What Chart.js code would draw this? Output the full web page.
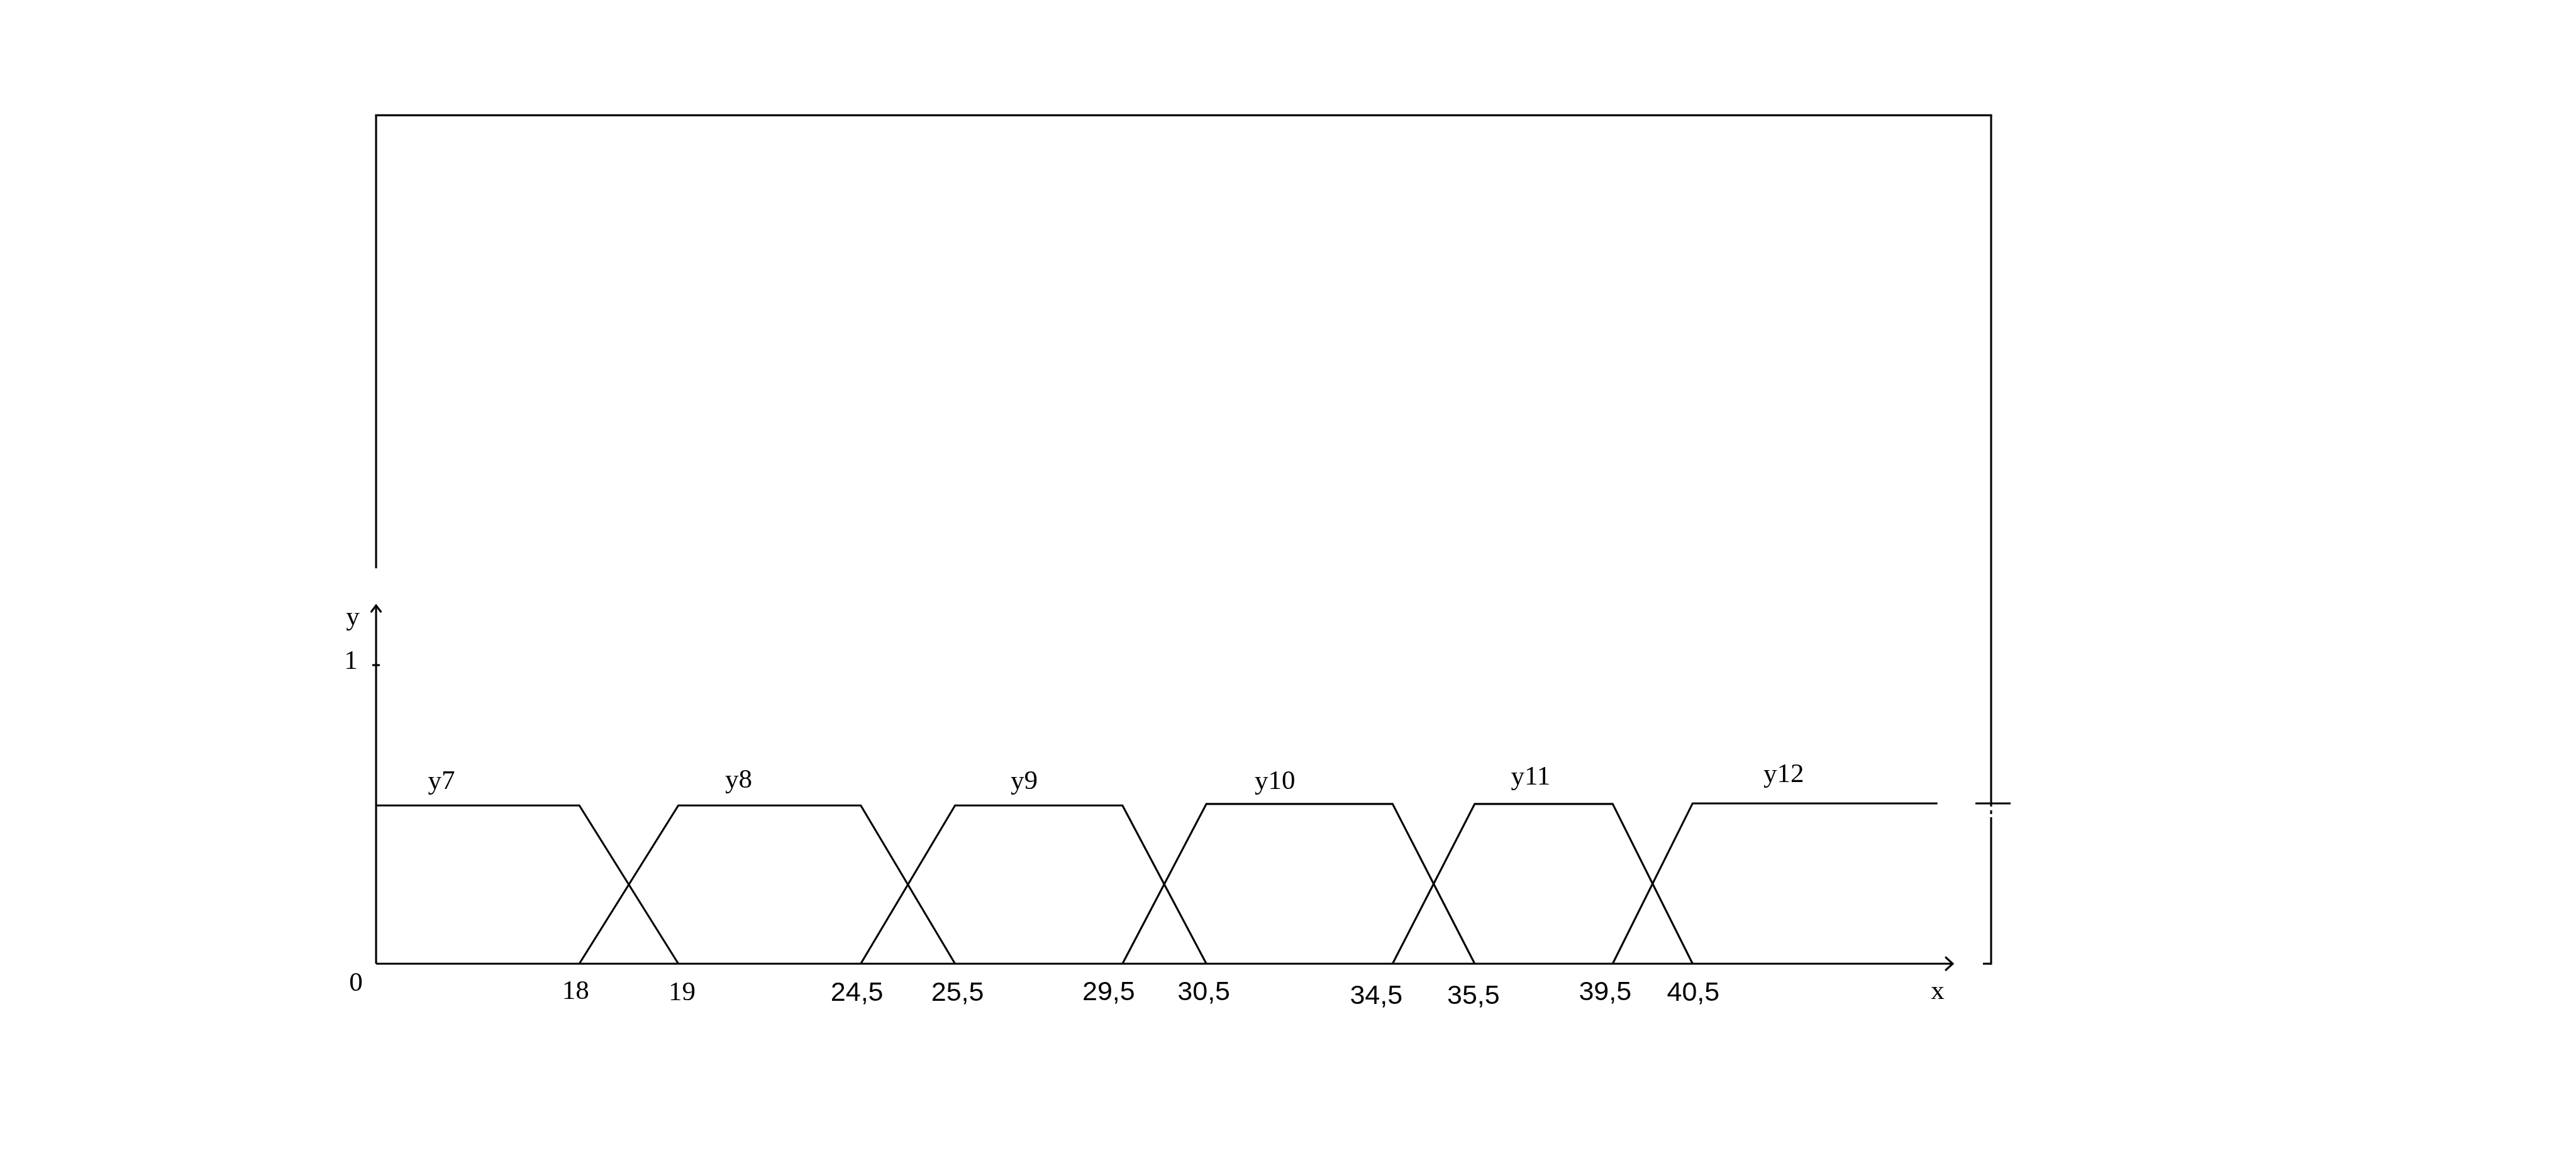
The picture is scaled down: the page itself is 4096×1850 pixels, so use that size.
<!DOCTYPE html>
<html>
<head>
<meta charset="utf-8">
<script src="https://cdn.jsdelivr.net/npm/chart.js@4.4.1/dist/chart.umd.min.js"></script>
<style>
html,body{margin:0;padding:0;background:#ffffff;}
canvas{display:block;}
</style>
</head>
<body>
<canvas id="c" width="4096" height="1850"></canvas>
<script>
// ---------------- data ----------------
const seriesNames = ['y7', 'y8', 'y9', 'y10', 'y11', 'y12'];
const y7X  = [0, 18, 19];
const y7Y  = [0.53, 0.53, 0];
const y8X  = [18, 19, 24.5, 25.5];
const y8Y  = [0, 0.53, 0.53, 0];
const y9X  = [24.5, 25.5, 29.5, 30.5];
const y9Y  = [0, 0.53, 0.53, 0];
const y10X = [29.5, 30.5, 34.5, 35.5];
const y10Y = [0, 0.535, 0.535, 0];
const y11X = [34.5, 35.5, 39.5, 40.5];
const y11Y = [0, 0.535, 0.535, 0];
const y12X = [39.5, 40.5, 47];
const y12Y = [0, 0.537, 0.537];

const xTickValues = [0, 18, 19, 24.5, 25.5, 29.5, 30.5, 34.5, 35.5, 39.5, 40.5];
const xTickLabels = ['0', '18', '19', '24,5', '25,5', '29,5', '30,5', '34,5', '35,5', '39,5', '40,5'];
const yTickValues = [1];
const yTickLabels = ['1'];
const xAxisTitle = 'x';
const yAxisTitle = 'y';

// ---------------- layout / style (not data) ----------------
// the sketch's x axis is hand drawn, not to scale: value -> fraction of axis length
const xKnots = [[0, 0], [18, 0.1289], [19, 0.1917], [24.5, 0.3074], [25.5, 0.3672],
                [29.5, 0.4734], [30.5, 0.5266], [34.5, 0.6447], [35.5, 0.6968],
                [39.5, 0.7843], [40.5, 0.8350], [47, 0.9903], [47.5, 1]];
const X_MAX = 47.5, Y_MAX = 1.2;
const SERIF = '43px "Liberation Serif", "DejaVu Serif", serif';
const SANS = '43px "Liberation Sans", "DejaVu Sans", sans-serif';
const LW = 3.1;
// per-label nudges [dx, baseline below x-axis] and font choice
const xLabelNudge = [[-32, 43], [-6, 56], [6, 57.5], [-6, 59], [4, 59], [-22, 57.5], [-4, 57.5],
                     [-26, 64], [-2, 64], [-12, 58], [1, 59]];
const xLabelSerif = [true, true, true, false, false, false, false, false, false, false, false];
// series label: [dx from plateau start, baseline height above plateau]
const seriesLabelNudge = [[104, 26], [96, 28], [110, 26], [109, 24], [89, 31], [145, 34]];
const frame = {top: 183.4, right: 3166, leftBottom: 904};

// ---------------- piecewise (sketch) scale ----------------
class SketchScale extends Chart.LinearScale {
  _frac(v) {
    const k = xKnots;
    let i = 1;
    while (i < k.length - 1 && v > k[i][0]) i++;
    const a = k[i - 1], b = k[i];
    return a[1] + (v - a[0]) * (b[1] - a[1]) / (b[0] - a[0]);
  }
  getPixelForValue(v) { return this.getPixelForDecimal(this._frac(v)); }
  getValueForPixel(p) {
    const f = this.getDecimalForPixel(p);
    const k = xKnots;
    let i = 1;
    while (i < k.length - 1 && f > k[i][1]) i++;
    const a = k[i - 1], b = k[i];
    return a[0] + (f - a[1]) * (b[0] - a[0]) / (b[1] - a[1]);
  }
}
SketchScale.id = 'sketch';
SketchScale.defaults = {};
Chart.register(SketchScale);

const xs = [y7X, y8X, y9X, y10X, y11X, y12X];
const ys = [y7Y, y8Y, y9Y, y10Y, y11Y, y12Y];
const datasets = seriesNames.map((name, s) => ({
  label: name,
  data: xs[s].map((x, i) => ({x: x, y: ys[s][i]})),
  borderColor: '#000000',
  borderWidth: LW,
  pointRadius: 0,
  tension: 0,
  fill: false,
  clip: false
}));

function line(ctx, x1, y1, x2, y2) {
  ctx.beginPath(); ctx.moveTo(x1, y1); ctx.lineTo(x2, y2); ctx.stroke();
}

const sketchPlugin = {
  id: 'sketch',
  afterDatasetsDraw(chart) {
    const ctx = chart.ctx;
    const xS = chart.scales.x, yS = chart.scales.y;
    const x0 = xS.getPixelForValue(0), y0 = yS.getPixelForValue(0);
    const xEnd = xS.getPixelForValue(X_MAX), yTop = yS.getPixelForValue(Y_MAX);
    ctx.save();
    ctx.strokeStyle = '#000'; ctx.lineWidth = LW; ctx.lineCap = 'butt';
    // axes
    line(ctx, x0, y0, xEnd, y0);
    line(ctx, x0, y0, x0, yTop);
    ctx.lineCap = 'round';
    ctx.beginPath(); ctx.moveTo(xEnd - 11, y0 - 10); ctx.lineTo(xEnd, y0); ctx.lineTo(xEnd - 11, y0 + 10); ctx.stroke();
    ctx.beginPath(); ctx.moveTo(x0 - 7.5, yTop + 10); ctx.lineTo(x0, yTop); ctx.lineTo(x0 + 7.5, yTop + 10); ctx.stroke();
    ctx.lineCap = 'butt';
    // y tick
    yTickValues.forEach(v => { const py = yS.getPixelForValue(v); line(ctx, x0 - 6, py, x0 + 6, py); });
    // frame around the sketch
    const plateauY = yS.getPixelForValue(y12Y[1]);
    line(ctx, x0, frame.top, x0, frame.leftBottom);
    line(ctx, x0 - LW / 2, frame.top, frame.right + LW / 2, frame.top);
    line(ctx, frame.right, frame.top, frame.right, plateauY + 5);
    line(ctx, frame.right, plateauY + 11, frame.right, plateauY + 17);
    line(ctx, frame.right, plateauY + 22, frame.right, y0 + LW / 2);
    line(ctx, frame.right - 25, plateauY, frame.right + 31, plateauY);
    line(ctx, frame.right - 13, y0, frame.right, y0);
    // texts
    ctx.fillStyle = '#000';
    ctx.textAlign = 'center';
    ctx.textBaseline = 'alphabetic';
    xTickValues.forEach((v, i) => {
      ctx.font = xLabelSerif[i] ? SERIF : SANS;
      ctx.fillText(xTickLabels[i], xS.getPixelForValue(v) + xLabelNudge[i][0], y0 + xLabelNudge[i][1]);
    });
    ctx.font = SERIF;
    yTickValues.forEach((v, i) => {
      ctx.fillText(yTickLabels[i], x0 - 40, yS.getPixelForValue(v) + 6);
    });
    ctx.fillText(yAxisTitle, x0 - 37, yTop + 31);
    ctx.fillText(xAxisTitle, xEnd - 24, y0 + 56);
    seriesNames.forEach((name, s) => {
      const startX = s === 0 ? xs[s][0] : xs[s][1];
      const py = yS.getPixelForValue(ys[s][1]);
      ctx.fillText(name, xS.getPixelForValue(startX) + seriesLabelNudge[s][0], py - seriesLabelNudge[s][1]);
    });
    ctx.restore();
  }
};

new Chart(document.getElementById('c'), {
  type: 'line',
  data: {datasets: datasets},
  options: {
    responsive: false,
    animation: false,
    devicePixelRatio: 1,
    layout: {padding: {left: 598, right: 991, top: 963, bottom: 317}},
    scales: {
      x: {type: 'sketch', min: 0, max: X_MAX, display: false},
      y: {type: 'linear', min: 0, max: Y_MAX, display: false}
    },
    plugins: {legend: {display: false}, tooltip: {enabled: false}}
  },
  plugins: [sketchPlugin]
});
</script>
</body>
</html>
